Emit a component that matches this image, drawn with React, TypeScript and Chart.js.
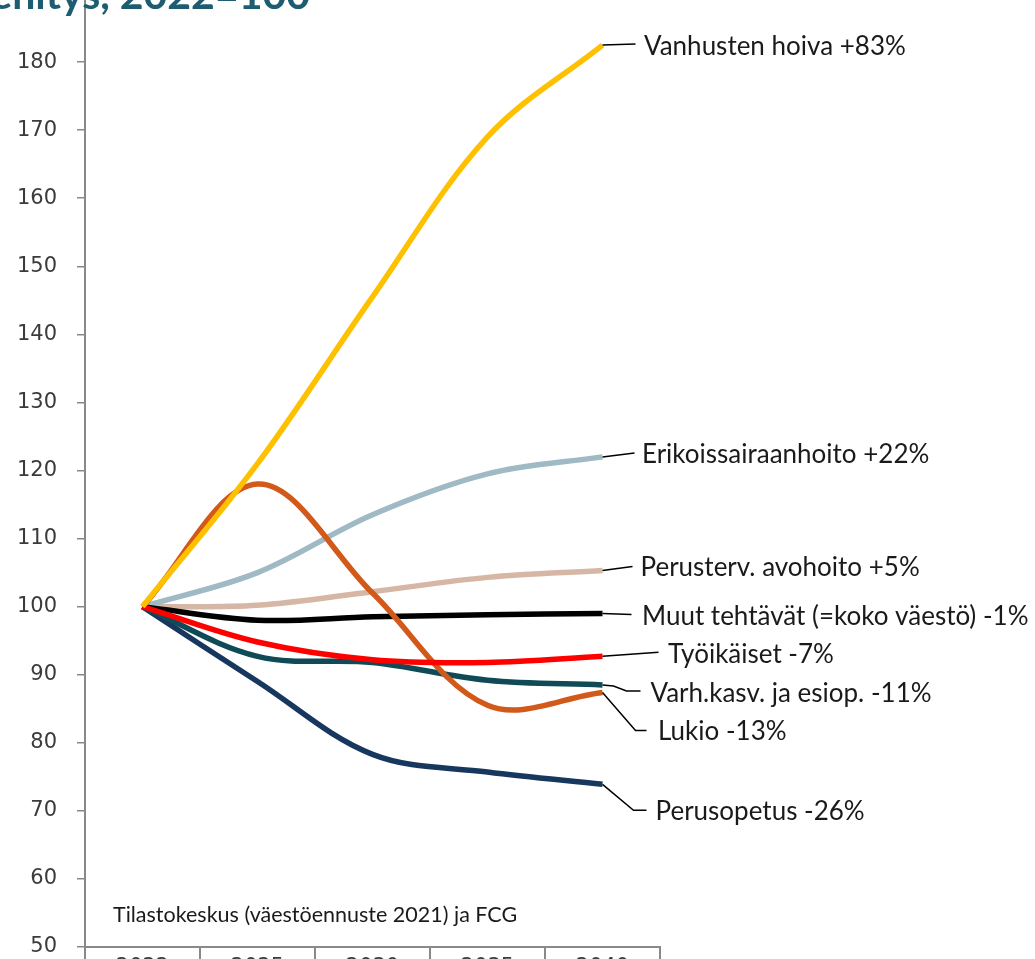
import React, { useEffect, useRef } from 'react';
import { Chart, registerables } from 'chart.js';

Chart.register(...registerables);

// ---- Data ----
const years = ['2022', '2025', '2030', '2035', '2040'];
const vanhustenHoiva = [100, 121, 145.5, 169, 182.5];
const erikoissairaanhoito = [100, 105, 113.5, 119.5, 122];
const perustervAvohoito = [100, 100.2, 102.2, 104.3, 105.3];
const muutTehtavat = [100, 98, 98.5, 98.8, 99];
const tyoikaiset = [100, 94.8, 92.2, 91.8, 92.7];
const varhKasv = [100, 92.7, 91.8, 89.2, 88.5];
const lukio = [100, 118, 102, 85.5, 87.4];
const perusopetus = [100, 89, 78.3, 75.7, 73.9];

const yMin = 50;
const yMax = 190;
const yStep = 10;

const seriesNames = [
  'Vanhusten hoiva',
  'Työikäiset',
  'Lukio',
  'Muut tehtävät (=koko väestö)',
  'Varh.kasv. ja esiop.',
  'Perusopetus',
  'Erikoissairaanhoito',
  'Perusterv. avohoito',
];
const seriesValues = [
  vanhustenHoiva,
  tyoikaiset,
  lukio,
  muutTehtavat,
  varhKasv,
  perusopetus,
  erikoissairaanhoito,
  perustervAvohoito,
];
const endLabels = [
  'Vanhusten hoiva +83%',
  'Työikäiset -7%',
  'Lukio -13%',
  'Muut tehtävät (=koko väestö) -1%',
  'Varh.kasv. ja esiop. -11%',
  'Perusopetus -26%',
  'Erikoissairaanhoito +22%',
  'Perusterv. avohoito +5%',
];

const titleText = 'Palvelutarpeen kehitys, 2022=100';
const sourceText = 'Tilastokeskus (väestöennuste 2021) ja FCG';

// ---- Styling ----
const seriesColors = [
  '#FFC000',
  '#FF0000',
  '#D2591A',
  '#000000',
  '#0F4A56',
  '#17375E',
  '#9FBAC4',
  '#D6B6A4',
];

// leader line points and text offsets (pixels, relative to last point)
const leaderPaths: number[][][] = [
  [[0, 0], [33, -1]],
  [[0, 0], [56, -4]],
  [[0, 0], [33, 38], [44, 38]],
  [[0, 0], [29, 1]],
  [[0, 0], [11, 1], [24, 6], [38, 6]],
  [[0, 0], [31, 26], [44, 26]],
  [[0, 0], [32, -4]],
  [[0, 0], [30, -4]],
];
const textOffsets: number[][] = [
  [41.5, 1.7],
  [65.5, -1.7],
  [55.5, 39.6],
  [39.5, 3],
  [48, 8.6],
  [53, 27.7],
  [39.5, -2],
  [38, -3],
];

const CANVAS_W = 1035;
const CANVAS_H = 1047;
const CANVAS_TOP = -60;

const labelFont = '26px Lato';
const tickFont = { family: 'DejaVu Sans', size: 21 };

const annotationPlugin = {
  id: 'endLabels',
  afterDatasetsDraw(chart: any) {
    const ctx = chart.ctx;
    ctx.save();
    chart.data.datasets.forEach((ds: any, i: number) => {
      const meta = chart.getDatasetMeta(i);
      const last = meta.data[meta.data.length - 1];
      if (!last) return;
      const x0 = last.x;
      const y0 = last.y;
      const path = leaderPaths[i];
      ctx.beginPath();
      ctx.strokeStyle = '#000000';
      ctx.lineWidth = 1.5;
      path.forEach((p, k) => {
        if (k === 0) ctx.moveTo(x0 + p[0], y0 + p[1]);
        else ctx.lineTo(x0 + p[0], y0 + p[1]);
      });
      ctx.stroke();
      ctx.font = labelFont;
      ctx.fillStyle = '#1a1a1a';
      ctx.textAlign = 'left';
      ctx.textBaseline = 'middle';
      ctx.fillText(endLabels[i], x0 + textOffsets[i][0], y0 + textOffsets[i][1]);
    });
    ctx.restore();
  },
  afterDraw(chart: any) {
    const ctx = chart.ctx;
    ctx.save();
    // source note
    ctx.font = '21.5px Lato';
    ctx.fillStyle = '#1a1a1a';
    ctx.textAlign = 'left';
    ctx.textBaseline = 'middle';
    ctx.fillText(sourceText, 113, 915 - CANVAS_TOP);
    // title (mostly cropped above)
    ctx.font = 'bold 41px Lato';
    ctx.fillStyle = '#1D5D6F';
    ctx.textAlign = 'right';
    ctx.textBaseline = 'alphabetic';
    ctx.fillText(titleText, 310, 9 - CANVAS_TOP);
    ctx.restore();
  },
};

export default function App() {
  const ref = useRef<HTMLCanvasElement | null>(null);

  useEffect(() => {
    if (!ref.current) return;
    const chart = new Chart(ref.current, {
      type: 'line',
      data: {
        labels: years,
        datasets: seriesValues.map((vals, i) => ({
          label: seriesNames[i],
          data: vals,
          borderColor: seriesColors[i],
          backgroundColor: seriesColors[i],
          borderWidth: 5.5,
          pointRadius: 0,
          pointHoverRadius: 0,
          tension: 0.35,
          borderJoinStyle: 'round' as const,
          borderCapStyle: 'butt' as const,
          fill: false,
        })),
      },
      options: {
        responsive: false,
        devicePixelRatio: 1,
        animation: false,
        layout: { padding: { top: 54, left: 8, right: 375, bottom: 0 } },
        plugins: {
          legend: { display: false },
          tooltip: { enabled: false },
          title: { display: false },
        },
        scales: {
          x: {
            type: 'category',
            offset: true,
            border: { display: true, color: '#898989', width: 2 },
            grid: {
              display: true,
              offset: true,
              drawOnChartArea: false,
              drawTicks: true,
              tickLength: 30,
              color: '#898989',
              lineWidth: 2,
            },
            ticks: {
              font: tickFont,
              color: '#3b3b3b',
              padding: -22,
              maxRotation: 0,
              autoSkip: false,
            },
            afterFit: (axis: any) => {
              axis.height = 40;
            },
          },
          y: {
            min: yMin,
            max: yMax,
            border: { display: true, color: '#898989', width: 2 },
            grid: {
              display: true,
              drawOnChartArea: false,
              drawTicks: true,
              tickLength: 8,
              color: '#898989',
              lineWidth: 1.5,
            },
            ticks: {
              stepSize: yStep,
              font: tickFont,
              color: '#3b3b3b',
              padding: 20,
              callback: (v: any) => (Number(v) > 180 ? '' : String(v)),
            },
            afterFit: (axis: any) => {
              axis.width = 77;
            },
          },
        },
      },
      plugins: [annotationPlugin],
    });
    return () => chart.destroy();
  }, []);

  return (
    <div
      style={{
        position: 'absolute',
        left: 0,
        top: 0,
        width: CANVAS_W,
        height: 959,
        overflow: 'hidden',
        background: '#ffffff',
      }}
    >
      <canvas
        ref={ref}
        width={CANVAS_W}
        height={CANVAS_H}
        style={{ position: 'absolute', left: 0, top: CANVAS_TOP, width: CANVAS_W, height: CANVAS_H }}
      />
    </div>
  );
}
